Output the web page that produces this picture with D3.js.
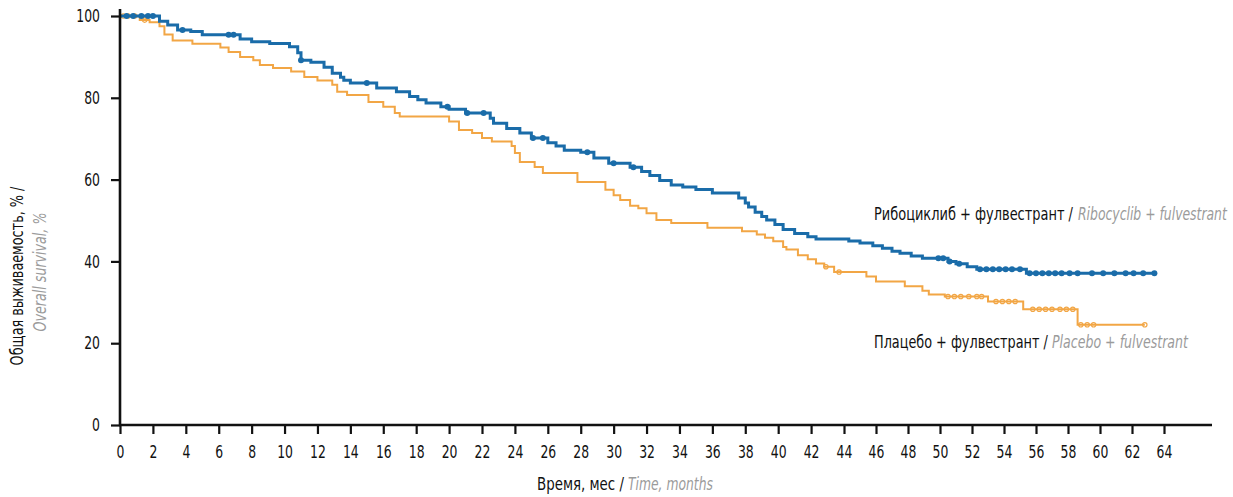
<!DOCTYPE html>
<html>
<head>
<meta charset="utf-8">
<script src="https://cdn.jsdelivr.net/npm/d3@7"></script>
<style>
  body { margin: 0; background: #fff; }
  svg text { font-family: 'Liberation Sans Narrow', 'DejaVu Sans Condensed', sans-serif; }
</style>
</head>
<body>
<script>
// Рибоциклиб + фулвестрант: step times (months) and survival (%) after each step
var riboTimes = [0, 2.4, 2.9, 3.5, 4.3, 5.0, 7.3, 8.0, 9.1, 10.3, 10.8, 11.0, 11.6, 12.4, 12.9, 13.4, 13.6, 14.0, 15.6, 16.8,
  17.6, 18.1, 18.6, 19.5, 20.0, 21.0, 22.5, 22.7, 23.5, 24.3, 25.0, 26.0, 26.5, 27.0, 28.0, 28.8, 29.7, 31.0, 31.7, 32.2,
  32.8, 33.5, 34.2, 35.0, 36.0, 37.6, 38.0, 38.2, 38.6, 39.0, 39.3, 39.8, 40.3, 41.0, 41.8, 42.3, 44.3, 45.0, 45.8, 46.4,
  47.0, 47.5, 48.2, 48.9, 50.5, 51.0, 51.7, 52.3, 55.4]
var riboSurv = [100, 98.7, 97.8, 96.6, 96.2, 95.4, 94.4, 93.7, 93.3, 92.5, 91.0, 89.2, 88.7, 87.5, 86.0, 85.0, 84.3, 83.6, 82.4, 81.5,
  80.3, 79.5, 78.7, 77.8, 77.2, 76.3, 75.0, 73.8, 72.5, 71.4, 70.2, 69.0, 68.2, 67.2, 66.7, 65.3, 64.0, 63.0, 62.0, 61.0,
  59.8, 58.7, 58.2, 57.6, 56.7, 55.5, 54.3, 53.3, 52.0, 51.0, 50.1, 49.0, 47.8, 46.8, 46.0, 45.5, 45.0, 44.5, 43.8, 43.2,
  42.5, 42.0, 41.3, 40.8, 40.0, 39.4, 38.7, 38.1, 37.1]
var riboEnd = 63.4
var riboCensor = [0.4, 0.8, 1.3, 1.7, 2.0, 3.8, 6.6, 6.9, 11.0, 15.0, 19.9, 21.1, 22.1, 25.1, 25.7, 28.4, 30.0, 31.2,
  49.9, 50.2, 50.6, 51.2, 52.5, 52.9, 53.3, 53.7, 54.1, 54.5, 55.0, 55.6, 56.0, 56.4, 56.8, 57.2, 57.6, 58.1, 58.6,
  59.5, 60.2, 60.9, 61.6, 62.1, 62.7, 63.4]

// Плацебо + фулвестрант
var placTimes = [0, 1.2, 1.8, 2.4, 2.7, 3.2, 4.4, 6.1, 6.6, 7.3, 8.1, 8.5, 9.3, 10.4, 11.2, 12.0, 12.9, 13.2, 13.8, 15.1,
  16.0, 16.7, 17.0, 20.0, 20.6, 21.4, 22.0, 22.6, 23.8, 24.0, 24.3, 25.2, 25.7, 27.8, 29.5, 30.0, 30.4, 31.0, 31.5, 32.0,
  32.6, 33.5, 35.7, 37.8, 38.7, 39.2, 39.7, 40.3, 40.5, 41.2, 41.8, 42.3, 42.8, 43.4, 45.4, 46.0, 47.8, 48.9, 49.3, 50.3,
  53.0, 55.2, 58.6]
var placSurv = [100, 99.0, 98.5, 97.5, 95.5, 94.0, 93.2, 92.3, 91.2, 90.0, 89.2, 88.0, 87.3, 86.4, 85.1, 84.2, 83.2, 81.5, 80.7, 79.0,
  77.8, 76.3, 75.4, 74.2, 72.1, 71.4, 70.2, 69.3, 68.2, 66.5, 64.3, 63.1, 61.6, 59.4, 57.5, 56.2, 55.0, 53.6, 53.0, 51.8,
  50.1, 49.4, 48.2, 47.4, 46.6, 45.8, 44.9, 43.5, 42.9, 41.5, 40.5, 39.5, 38.7, 37.4, 36.3, 35.1, 33.9, 32.8, 31.9, 31.4,
  30.2, 28.3, 24.5]
var placEnd = 62.8
var placCensor = [0.2, 0.5, 0.9, 1.5, 42.9, 43.7, 50.5, 50.9, 51.3, 51.8, 52.3, 52.6, 53.5, 53.9, 54.3, 54.7, 55.8, 56.2,
  56.6, 57.0, 57.5, 57.9, 58.3, 58.8, 59.2, 59.6, 62.8]

var xTicks = d3.range(0, 65, 2)
var yTicks = [0, 20, 40, 60, 80, 100]

var blue = '#1a6ca9'
var orange = '#f2a645'
var grey = '#9b9b9b'

var svg = d3.select('body').append('svg')
  .attr('width', 1233)
  .attr('height', 497)

var x = d3.scaleLinear().domain([0, 44, 64]).range([120, 844, 1164])
var y = d3.scaleLinear().domain([0, 100]).range([425, 16])

// squeeze a text horizontally to the narrow width of the original condensed face
function squeeze(node, w, pre) {
  var sx = w / node.getComputedTextLength()
  var px = +node.getAttribute('x') || 0
  var py = +node.getAttribute('y') || 0
  node.setAttribute('x', 0)
  node.setAttribute('y', 0)
  node.setAttribute('transform', (pre || '') + ' translate(' + px + ',' + py + ') scale(' + sx + ',1)')
}
function label(px, py, txt, w, color, italic) {
  var t = svg.append('text')
    .attr('x', px).attr('y', py)
    .attr('font-size', 18)
    .attr('fill', color)
    .attr('font-style', italic ? 'italic' : 'normal')
    .text(txt)
  squeeze(t.node(), w)
  return t
}

function stepPoints(times, surv, end) {
  var pts = times.map(function(t, i) { return [t, surv[i]] })
  pts.push([end, surv[surv.length - 1]])
  return pts
}
function survAt(times, surv, t) {
  var i = d3.bisectRight(times, t) - 1
  return surv[Math.max(i, 0)]
}

var line = d3.line()
  .x(function(d) { return x(d[0]) })
  .y(function(d) { return y(d[1]) })
  .curve(d3.curveStepAfter)

// placebo curve
svg.append('path')
  .datum(stepPoints(placTimes, placSurv, placEnd))
  .attr('d', line)
  .attr('fill', 'none')
  .attr('stroke', orange)
  .attr('stroke-width', 2)

svg.selectAll('.pc')
  .data(placCensor)
  .enter().append('circle')
  .attr('class', 'pc')
  .attr('cx', function(d) { return x(d) })
  .attr('cy', function(d) { return y(survAt(placTimes, placSurv, d)) })
  .attr('r', 2.2)
  .attr('fill', 'none')
  .attr('stroke', orange)
  .attr('stroke-width', 1.2)

// ribociclib curve
svg.append('path')
  .datum(stepPoints(riboTimes, riboSurv, riboEnd))
  .attr('d', line)
  .attr('fill', 'none')
  .attr('stroke', blue)
  .attr('stroke-width', 3)

svg.selectAll('.rc')
  .data(riboCensor)
  .enter().append('circle')
  .attr('class', 'rc')
  .attr('cx', function(d) { return x(d) })
  .attr('cy', function(d) { return y(survAt(riboTimes, riboSurv, d)) })
  .attr('r', 3)
  .attr('fill', blue)

// axes
var yAxis = svg.append('g')
  .attr('transform', 'translate(120,0)')
  .call(d3.axisLeft(y).tickValues(yTicks).tickSize(9).tickPadding(11).tickSizeOuter(0))
var xAxis = svg.append('g')
  .attr('transform', 'translate(0,425)')
  .call(d3.axisBottom(x).tickValues(xTicks).tickFormat(d3.format('d')).tickSize(9).tickPadding(11).tickSizeOuter(0))

yAxis.select('.domain').remove()
xAxis.select('.domain').remove()
svg.selectAll('.tick line').attr('stroke', '#111').attr('stroke-width', 2.2)
svg.selectAll('.tick text')
  .attr('font-size', 18)
  .attr('fill', '#111')
  .each(function(d) { squeeze(this, String(d).length * 7.9) })

svg.append('line').attr('x1', 120).attr('x2', 120).attr('y1', 9).attr('y2', 426)
  .attr('stroke', '#111').attr('stroke-width', 2.6)
svg.append('line').attr('x1', 119).attr('x2', 1212).attr('y1', 425).attr('y2', 425)
  .attr('stroke', '#111').attr('stroke-width', 2.6)

// axis titles
label(537, 490, 'Время, мес /', 87, '#111', false)
label(628, 490, 'Time, months', 85, grey, true)

var yt1 = svg.append('text')
  .attr('text-anchor', 'middle')
  .attr('font-size', 18)
  .attr('fill', '#111')
  .text('Общая выживаемость, % /')
squeeze(yt1.node(), 179, 'translate(23,276) rotate(-90)')
var yt2 = svg.append('text')
  .attr('text-anchor', 'middle')
  .attr('font-size', 18)
  .attr('font-style', 'italic')
  .attr('fill', grey)
  .text('Overall survival, %')
squeeze(yt2.node(), 119, 'translate(46,272) rotate(-90)')

// series labels
label(874, 220, 'Рибоциклиб + фулвестрант /', 199, '#111', false)
label(1078, 220, 'Ribocyclib + fulvestrant', 149, grey, true)
label(874, 348, 'Плацебо + фулвестрант /', 174, '#111', false)
label(1052, 348, 'Placebo + fulvestrant', 136, grey, true)
</script>
</body>
</html>
